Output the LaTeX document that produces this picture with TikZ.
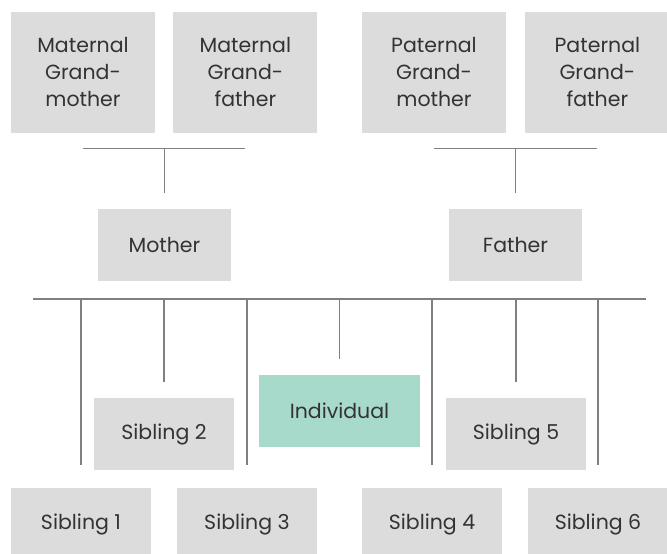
\documentclass[tikz,border=0pt]{standalone}
\usepackage{fontspec}
\setmainfont{Poppins}
\usetikzlibrary{positioning}
\definecolor{boxgray}{HTML}{DCDCDC}
\definecolor{selfteal}{HTML}{A8DACB}
\definecolor{linegray}{HTML}{808080}
\definecolor{textgray}{HTML}{333333}

\begin{document}
\begin{tikzpicture}[
  x=1pt, y=-1pt,
  every node/.style={align=center, font=\fontsize{20.5}{27}\selectfont, text=textgray},
  member/.style={rectangle, fill=boxgray, inner sep=0pt, minimum width=140pt, minimum height=72pt},
  grand/.style={member, minimum width=144pt, minimum height=121pt},
  self/.style={member, fill=selfteal, minimum width=161pt},
  link/.style={draw=linegray, line width=1.1pt}
]
\useasboundingbox (0,0) rectangle (667,554);

% --- GRANDPARENTS ---
\node[grand] (mgm) at (83,72.5) {Maternal\\Grand-\\mother};
\node[grand, right=18pt of mgm] (mgf) {Maternal\\Grand-\\father};
\node[grand] (pgm) at (434,72.5) {Paternal\\Grand-\\mother};
\node[grand, right=19pt of pgm] (pgf) {Paternal\\Grand-\\father};

% --- PARENTS ---
\node[member, minimum width=133pt] (mother) at (164.5,245) {Mother};
\node[member, minimum width=133pt] (father) at (515.5,245) {Father};

% --- CHILDREN ---
\node[member] (sib2) at (164,434) {Sibling 2};
\node[self] (indiv) at (339.5,411) {Individual};
\node[member] (sib5) at (516,434) {Sibling 5};

\node[member] (sib1) at (81,524) {Sibling 1};
\node[member] (sib3) at (247,524) {Sibling 3};
\node[member] (sib4) at (432,524) {Sibling 4};
\node[member] (sib6) at (598,524) {Sibling 6};

% --- PARENT LINKS ---
\draw[link] ([yshift=-15pt]mgm.south) coordinate (mL) -- ([yshift=-15pt]mgf.south);
\draw[link] (mother.north |- mL) -- ([yshift=16pt]mother.north);

\draw[link] ([yshift=-15pt]pgm.south) coordinate (pL) -- ([yshift=-15pt]pgf.south);
\draw[link] (father.north |- pL) -- ([yshift=16pt]father.north);

% --- SIBLING BAR ---
\coordinate (barL) at (33,299);
\coordinate (barR) at (646,299);
\draw[link] (barL) -- (barR);

\draw[link] (sib1.north |- barL) -- ([yshift=23pt]sib1.north);
\draw[link] (sib2.north |- barL) -- ([yshift=16pt]sib2.north);
\draw[link] (sib3.north |- barL) -- ([yshift=23pt]sib3.north);
\draw[link] (indiv.north |- barL) -- ([yshift=16pt]indiv.north);
\draw[link] (sib4.north |- barL) -- ([yshift=23pt]sib4.north);
\draw[link] (sib5.north |- barL) -- ([yshift=16pt]sib5.north);
\draw[link] (sib6.north |- barL) -- ([yshift=23pt]sib6.north);

\end{tikzpicture}
\end{document}
